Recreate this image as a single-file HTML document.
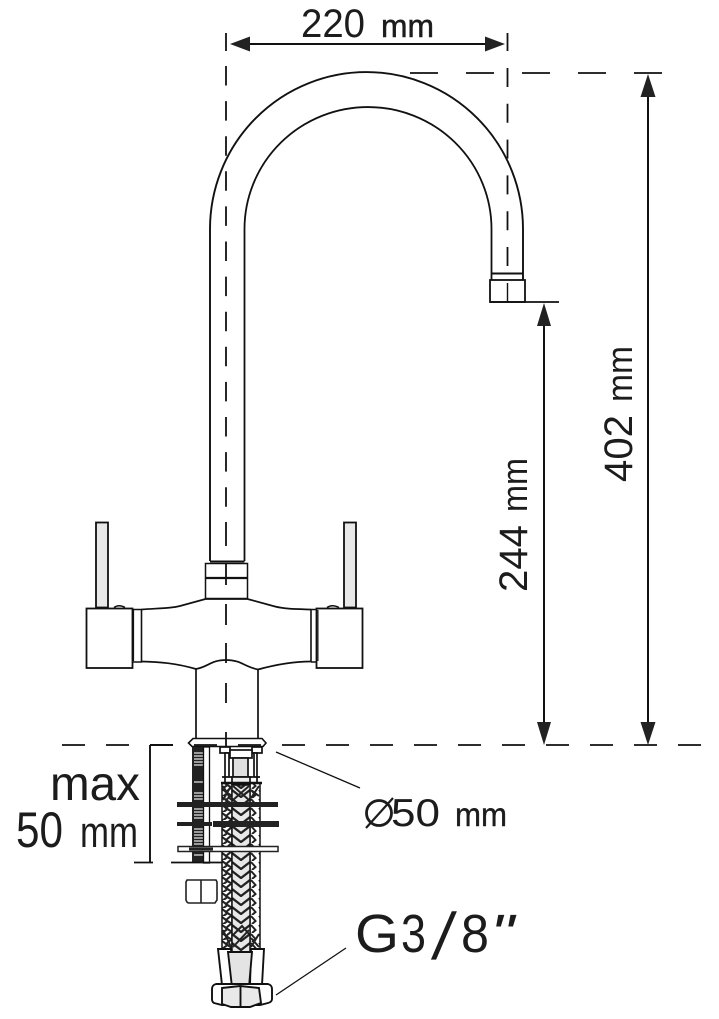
<!DOCTYPE html>
<html><head><meta charset="utf-8"><style>html,body{margin:0;padding:0;background:#fff}svg{display:block}text{font-family:"Liberation Sans",sans-serif;fill:#1c1c1c}</style></head><body>
<svg width="719" height="1019" viewBox="0 0 719 1019" xmlns="http://www.w3.org/2000/svg">
<defs>
<pattern id="chev" width="18" height="9" patternUnits="userSpaceOnUse" x="232" y="780"><path d="M0 1L9 8L18 1" fill="none" stroke="#222" stroke-width="2.300"/></pattern>
<pattern id="chevL" width="10" height="8" patternUnits="userSpaceOnUse" x="222" y="780"><path d="M0 1L5.500 5L0 9M10 -1L4 4L10 8" fill="none" stroke="#222" stroke-width="2.100"/></pattern>
<pattern id="chevR" width="8" height="9" patternUnits="userSpaceOnUse" x="250" y="780"><path d="M1 1L5.500 6L2 9" fill="none" stroke="#222" stroke-width="2"/></pattern>
</defs>
<g fill="none" stroke="#111">
<!-- spout -->
<path d="M210 561V229A156.500 157 0 0 1 523 229V280" stroke-width="1.900"/>
<path d="M244.500 561V229A123.500 122 0 0 1 491.500 229V280" stroke-width="1.800"/>
<path d="M492 273.500H523" stroke-width="2"/>
<rect x="490" y="280" width="35" height="22" stroke-width="1.800"/>
<path d="M490 302H559" stroke-width="1.800"/>
<path d="M210 561.500H244.500" stroke-width="2"/>
<!-- body -->
<rect x="96" y="522.500" width="12" height="85" fill="#e8e8e8" stroke-width="1.800"/>
<rect x="344" y="522.500" width="12" height="85" fill="#e8e8e8" stroke-width="1.800"/>
<path d="M114 607.500Q119 604 125 607.500M327 607.500Q332 604 339 607.500" stroke-width="1.500"/>
<rect x="86.500" y="608.500" width="46" height="59.500" stroke-width="1.800"/>
<rect x="316.500" y="608.500" width="46" height="59.500" stroke-width="1.800"/>
<path d="M133 609.500H141.500V662H133M311 609.500H316M311 662H316M311 609.500V662" stroke-width="1.600"/>
<path d="M133 610V661" stroke-width="2.200"/><path d="M318 610V661" stroke-width="1"/>
<path d="M141.500 609.500C165 608 172 608 180 606L205.500 599H247.500L275 606.500C285 609 295 609 311 609.500" stroke-width="1.700"/>
<path d="M141.500 661.500C160 662 175 663 196 669C208 667 211 660 226 660C241 660 245 667 258 669.500C278 664 295 661.500 311 661.500" stroke-width="1.700"/>
<rect x="205.500" y="563.500" width="42" height="35" stroke-width="1.500"/>
<path d="M205.500 578H247.500" stroke-width="2.200"/>
<path d="M196 669V738M258 669.500V738" stroke-width="1.700"/>
<path d="M193 738.500H262L266 743L263 746.500H192L188.500 743Z" stroke-width="1.600" fill="#fff"/>
</g>
<!-- threaded rod -->
<rect x="192" y="747" width="11.500" height="116" fill="#222"/>
<path d="M194 753H203M194 756H203M194 759H203M194 762H203M194 765H203M194 782H203M194 793H203M194 796H203M194 799H203M194 809H203M194 812H203M194 815H203M194 818H203M194 829H203M194 832H203M194 835H203M194 838H203M194 841H203M194 844H203M194 855H203" stroke="#c4c4c4" stroke-width="1.400"/>
<rect x="203.500" y="747" width="6" height="116" fill="#fff" stroke="#111" stroke-width="1.300"/>
<!-- hoses -->
<rect x="222" y="783" width="10" height="168" fill="#fff"/>
<rect x="222" y="783" width="10" height="168" fill="url(#chevL)" stroke="#111" stroke-width="1.500"/>
<rect x="250" y="783" width="10" height="168" fill="url(#chevR)" stroke="#111" stroke-width="1.500"/>
<rect x="232" y="785" width="18" height="168" fill="#e8e8e8"/>
<rect x="232" y="785" width="18" height="168" fill="url(#chev)" stroke="#111" stroke-width="1.500"/>
<g fill="none" stroke="#222" stroke-width="2">
<path d="M223 786L231 800M231 786L223 800M233 786L249 800M249 786L233 800M251 798L259 786M251 790L259 796"/>
<path d="M223 930L231 947M233 935L242 926L249 934M233 947L249 930M251 947L259 934M251 938L259 947"/>
</g>
<!-- top fittings -->
<g stroke="#111" stroke-width="1.700" fill="#fff">
<rect x="220" y="747" width="10" height="6"/><rect x="252" y="747" width="10" height="6"/>
<rect x="225" y="753" width="32" height="30"/>
<path d="M229 753V777M254 753V777M222 777H260" fill="none"/>
<rect x="230" y="750" width="22" height="8"/>
<rect x="233" y="758" width="15" height="19" fill="#e0e0e0"/>
<rect x="232" y="777" width="18" height="7" fill="#eee"/>
</g>
<path d="M221 783H262" stroke="#111" stroke-width="2.400"/>
<!-- plates -->
<rect x="177" y="802" width="101" height="5" fill="#222"/>
<rect x="177" y="822" width="35" height="4" fill="#222"/>
<rect x="213" y="821" width="66" height="6" fill="#222"/>
<rect x="178" y="846.500" width="100" height="5" fill="#fff" stroke="#222" stroke-width="1.500"/>
<path d="M189 849H213" stroke="#222" stroke-width="3"/>
<!-- small nut -->
<path d="M187 880H201V903H189Q187 903 186 900V882ZM201 880H216L217 882V900L215 903H201" fill="#fff" stroke="#222" stroke-width="1.600"/>
<!-- bottom fittings -->
<g stroke="#111" stroke-width="1.900">
<path d="M218 949H231L234 985H222ZM251 949H264L262 985H250Z" fill="#fff"/>
<path d="M228 952H252L249 987H232Z" fill="#e4e4e4"/>
<path d="M216 984H268Q272 985 272 989V999Q272 1002 268 1003L260 1005H222L214 1003Q212 1002 212 999V989Q212 985 216 984Z" fill="#fff"/>
<path d="M222 988L240 986L259 988L261 1003L250 1007H231L222 1004Z" fill="#e9e9e9"/>
<path d="M240.500 987V1006" fill="none"/>
</g>
<!-- dims -->
<g stroke="#111" fill="none" stroke-width="1.800">
<path d="M226 33V51"/>
<path d="M507.500 33V51"/>
<path d="M226 66V522" stroke-dasharray="19.500 15.600"/>
<path d="M507.500 68V268" stroke-dasharray="19 16.800"/>
<path d="M507.500 283V302" stroke-width="1.400"/>
<path d="M226 522V546M226 563V585M226 604V625M226 643V663M226 683V703M226 732V746"/>
<path d="M410 73H665" stroke-dasharray="28 28"/>
<path d="M62 745H709" stroke-dasharray="23 21"/>
<path d="M240 44H495" stroke-width="2"/>
<path d="M648 90V730" stroke-width="2"/>
<path d="M544 320V730" stroke-width="2"/>
<path d="M150 745H173M150 745V862" stroke-width="1.900"/>
<path d="M134 862.500H153M171 862.500H190M190 862.500H222" stroke-width="1.800"/>
<path d="M276 752L360 788" stroke-width="1.300"/>
<path d="M276 995L346 948" stroke-width="1.300"/>
</g>
<g fill="#222">
<path d="M230 44L250 36.500V51.500Z"/><path d="M505 44L485 36.500V51.500Z"/>
<path d="M648 74L655.500 97H640.500Z"/><path d="M648 745L655.500 722H640.500Z"/>
<path d="M544 303L551 326H537Z"/><path d="M544 745L551 722H537Z"/>
</g>
<!-- text -->
<text x="301" y="37" font-size="40" textLength="64" lengthAdjust="spacingAndGlyphs">220</text>
<text x="381" y="37" font-size="32" textLength="53" lengthAdjust="spacingAndGlyphs" stroke="#1c1c1c" stroke-width=".5">mm</text>
<g transform="translate(632 482) rotate(-90)"><text x="0" y="0" font-size="40" textLength="67" lengthAdjust="spacingAndGlyphs">402</text><text x="80" y="0" font-size="36" textLength="56" lengthAdjust="spacingAndGlyphs">mm</text></g>
<g transform="translate(527 592) rotate(-90)"><text x="0" y="0" font-size="40" textLength="67" lengthAdjust="spacingAndGlyphs">244</text><text x="80" y="0" font-size="36" textLength="54" lengthAdjust="spacingAndGlyphs">mm</text></g>
<text x="50" y="800" font-size="48" textLength="90" lengthAdjust="spacingAndGlyphs">max</text>
<text x="16" y="847" font-size="50" textLength="47" lengthAdjust="spacingAndGlyphs">50</text>
<text x="80" y="847" font-size="44" textLength="58" lengthAdjust="spacingAndGlyphs">mm</text>
<text x="391" y="826" font-size="39" textLength="49" lengthAdjust="spacingAndGlyphs">50</text>
<circle cx="379" cy="813" r="12.500" fill="none" stroke="#1c1c1c" stroke-width="2.800"/>
<path d="M366 828L393 798" stroke="#1c1c1c" stroke-width="2.200"/>
<text x="455" y="826" font-size="33" textLength="52" lengthAdjust="spacingAndGlyphs" stroke="#1c1c1c" stroke-width=".4">mm</text>
<text x="355" y="952" font-size="54" textLength="44" lengthAdjust="spacingAndGlyphs">G</text>
<text x="401" y="952" font-size="54" textLength="25" lengthAdjust="spacingAndGlyphs">3</text>
<text transform="translate(431 959) skewX(-9)" font-size="66">/</text>
<text x="461" y="952" font-size="54" textLength="28" lengthAdjust="spacingAndGlyphs">8</text>
<text x="490" y="952" font-size="54" font-style="italic" textLength="24" lengthAdjust="spacingAndGlyphs">"</text>
</svg>
</body></html>
